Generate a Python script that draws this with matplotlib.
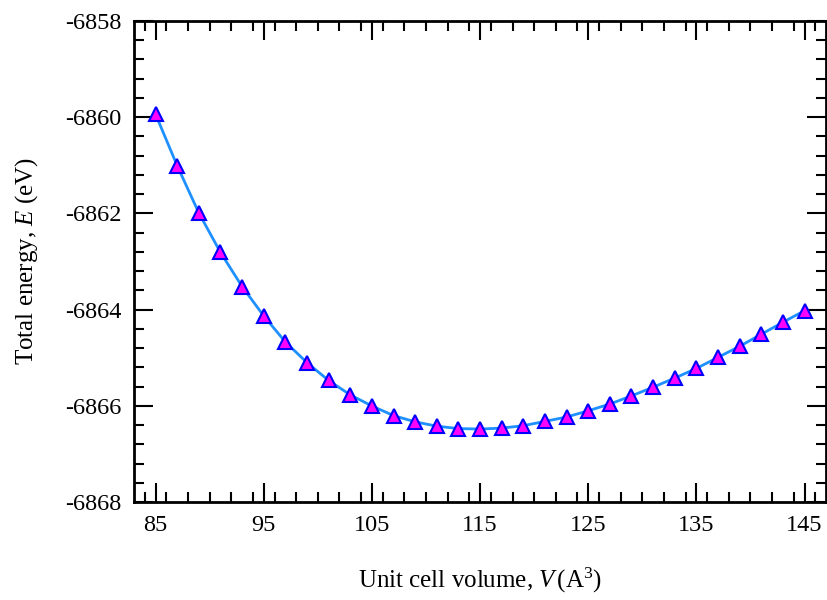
import matplotlib
matplotlib.use('Agg')
import matplotlib.pyplot as plt
from matplotlib.ticker import MultipleLocator

# Energy-volume data
volume = [85, 87, 89, 91, 93, 95, 97, 99, 101, 103, 105, 107, 109, 111, 113,
          115, 117, 119, 121, 123, 125, 127, 129, 131, 133, 135, 137, 139,
          141, 143, 145]
energy = [-6859.94, -6861.01, -6861.99, -6862.81, -6863.52, -6864.13,
          -6864.67, -6865.10, -6865.47, -6865.77, -6866.00, -6866.20,
          -6866.33, -6866.42, -6866.47, -6866.48, -6866.46, -6866.41,
          -6866.32, -6866.23, -6866.10, -6865.96, -6865.79, -6865.61,
          -6865.42, -6865.22, -6864.99, -6864.76, -6864.51, -6864.26,
          -6864.02]
xticks = [85, 95, 105, 115, 125, 135, 145]
yticks = [-6868, -6866, -6864, -6862, -6860, -6858]

plt.rcParams['font.family'] = 'Liberation Serif'
plt.rcParams['axes.unicode_minus'] = False
plt.rcParams['mathtext.fontset'] = 'custom'
plt.rcParams['mathtext.rm'] = 'Liberation Serif'
plt.rcParams['mathtext.it'] = 'Liberation Serif:italic'

fig = plt.figure(figsize=(8.27, 6.0), dpi=100)
ax = fig.add_axes([0.162, 0.163, 0.837, 0.802])

ax.plot(volume, energy, '-', color='#1E90FF', lw=2, zorder=2)
ax.plot(volume, energy, '^', ms=9.5, mfc='#FF00FF', mec='#0000FF', mew=1.5,
        ls='none', zorder=3)

ax.set_xlim(83, 147)
ax.set_ylim(-6868, -6858)
ax.set_xticks(xticks)
ax.set_yticks(yticks)
ax.xaxis.set_minor_locator(MultipleLocator(2))
ax.yaxis.set_minor_locator(MultipleLocator(0.4))
ax.tick_params(which='both', direction='in', top=True, right=True,
               width=1.5, labelsize=17.5)
ax.tick_params(which='major', length=14, pad=9)
ax.tick_params(which='minor', length=7)
for sp in ax.spines.values():
    sp.set_linewidth(2)

ax.set_xlabel('Unit cell volume, $V\\,$(A$^3$)', fontsize=18, labelpad=22)
ax.set_ylabel('Total energy, $E$ (eV)', fontsize=18, labelpad=18)

fig.savefig('out.png', dpi=100)
